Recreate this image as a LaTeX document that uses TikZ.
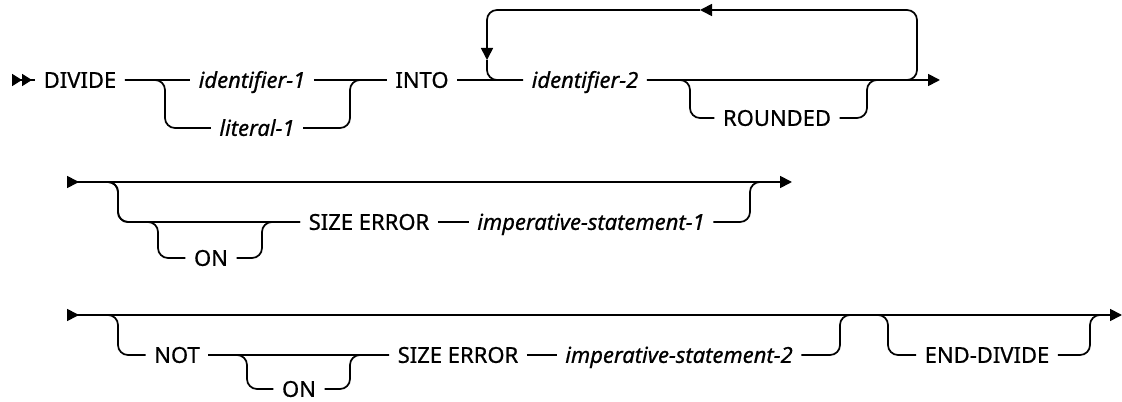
\documentclass[tikz,border=0pt]{standalone}
\usepackage{fontspec}
\setmainfont{Noto Sans}[FakeBold=0.7]
\usetikzlibrary{arrows.meta}
\begin{document}
\begin{tikzpicture}[x=.75pt,y=-.75pt,
    keyword/.style={font=\fontsize{16.5}{18}\selectfont, inner xsep=6.3pt,
      inner ysep=0pt, text height=11.8pt, text depth=0pt},
    argname/.style={keyword, font=\fontsize{16.5}{18}\selectfont\itshape},
    rail/.style={draw=black, line width=1.3pt, rounded corners=7.5pt},
    railexit/.style={-{Triangle[length=9pt,width=9pt]}},
    railthrough/.style={{Triangle[reversed,length=9pt,width=9pt]}-{Triangle[length=9pt,width=9pt]}},
    railentry/.style={{Triangle[reversed,length=7.5pt,width=9pt]Triangle[reversed,length=7.5pt,width=9pt]}-}]
  \useasboundingbox (0,0) rectangle (1122,402);

  \node[keyword] (divide) at (80,80) {DIVIDE};
  \node[argname] (ident1) at (252,80) {identifier-1};
  \node[argname] (liter1) at (257,128) {literal-1};
  \node[keyword] (into) at (422,80) {INTO};
  \node[argname] (ident2) at (585,80) {identifier-2};
  \node[keyword] (round) at (777,118) {ROUNDED};
  \coordinate (start1) at (12,80);
  \coordinate (lit1in) at (165,128);
  \coordinate (lit1out) at (350,80);
  \coordinate (loopjoin) at (897,80);
  \coordinate (loopup) at (917,10);
  \coordinate (looptip) at (700,10);
  \coordinate (loopdown) at (487,60);
  \coordinate (rndin) at (690,118);
  \coordinate (rndout) at (867,80);
  \coordinate (rndjoin) at (882,80);
  \coordinate (end1) at (940,80);
  \draw[rail,railentry] (start1) -- (divide.west);
  \draw[rail] (divide.east) -- (ident1.west);
  \draw[rail] (divide.east) -| (lit1in) -- (liter1.west);
  \draw[rail] (ident1.east) -- (into.west);
  \draw[rail] (liter1.east) -| (lit1out) -- (into.west);
  \draw[rail] (into.east) -- (ident2.west);
  \draw[rail,railexit] (ident2.east) -- (end1);
  \draw[rail] (ident2.east) -| (rndin) -- (round.west);
  \draw[rail] (round.east) -| (rndout) -- (rndjoin);
  \draw[rail,railexit] (loopjoin) -| (loopup) -- (looptip);
  \draw[rail,railexit] (looptip) -| (loopdown);
  \draw[rail] (loopdown) |- (ident2.west);

  \node[keyword] (on1) at (211,258) {ON};
  \node[keyword] (size1) at (369,222) {SIZE ERROR};
  \node[argname] (stmt1) at (591,222) {imperative-statement-1};
  \coordinate (start2) at (67,182);
  \coordinate (end2) at (792,182);
  \coordinate (err1in) at (118,222);
  \coordinate (on1in) at (158,258);
  \coordinate (on1out) at (262,222);
  \coordinate (err1out) at (750,182);
  \coordinate (err1join) at (765,182);
  \draw[rail,railthrough] (start2) -- (end2);
  \draw[rail] (start2) -| (err1in) -- (size1.west);
  \draw[rail] (start2) -| (err1in) -| (on1in) -- (on1.west);
  \draw[rail] (on1.east) -| (on1out) -- (size1.west);
  \draw[rail] (size1.east) -- (stmt1.west);
  \draw[rail] (stmt1.east) -| (err1out) -- (err1join);

  \node[keyword] (not) at (177,355) {NOT};
  \node[keyword] (on2) at (299,389) {ON};
  \node[keyword] (size2) at (458,355) {SIZE ERROR};
  \node[argname] (stmt2) at (679,355) {imperative-statement-2};
  \node[keyword] (enddiv) at (987,355) {END-DIVIDE};
  \coordinate (start3) at (67,315);
  \coordinate (end3) at (1122,315);
  \coordinate (err2in) at (118,355);
  \coordinate (on2in) at (247,389);
  \coordinate (on2out) at (350,355);
  \coordinate (err2out) at (840,315);
  \coordinate (err2join) at (852,315);
  \coordinate (endin) at (888,355);
  \coordinate (endout) at (1090,315);
  \coordinate (endjoin) at (1102,315);
  \draw[rail,railthrough] (start3) -- (end3);
  \draw[rail] (start3) -| (err2in) -- (not.west);
  \draw[rail] (not.east) -- (size2.west);
  \draw[rail] (not.east) -| (on2in) -- (on2.west);
  \draw[rail] (on2.east) -| (on2out) -- (size2.west);
  \draw[rail] (size2.east) -- (stmt2.west);
  \draw[rail] (stmt2.east) -| (err2out) -- (err2join);
  \draw[rail] (err2join) -| (endin) -- (enddiv.west);
  \draw[rail] (enddiv.east) -| (endout) -- (endjoin);
\end{tikzpicture}
\end{document}
